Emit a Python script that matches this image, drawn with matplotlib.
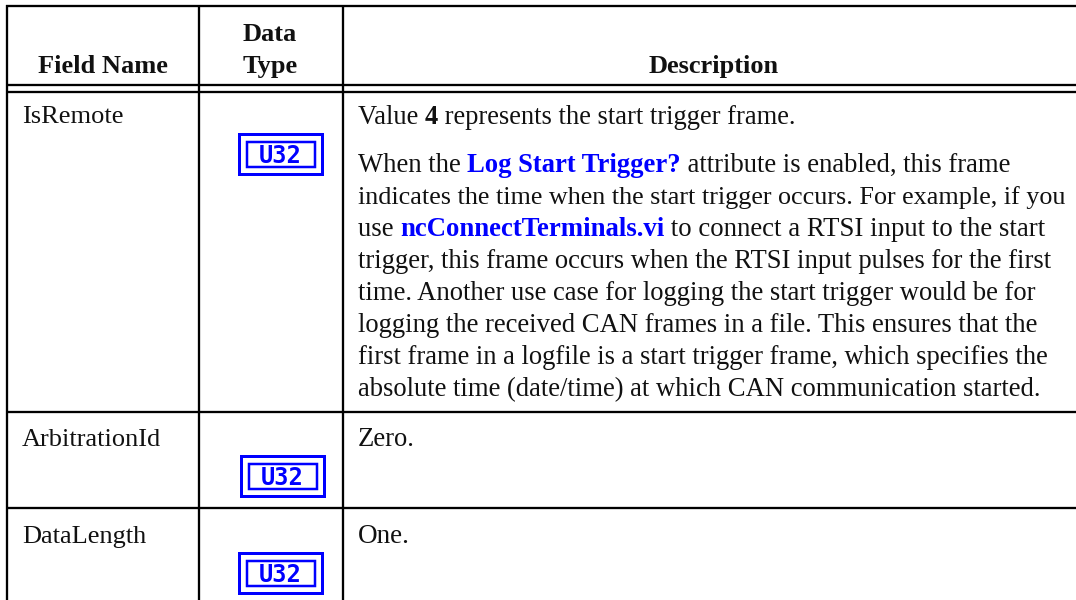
import matplotlib
matplotlib.use("Agg")
import matplotlib.pyplot as plt
from matplotlib.patches import Rectangle

W, H = 1076, 600
BLUE = "#0000ff"
INK = "#111111"
FS = 19.0

headers = [("Field Name", 103, [72]), ("Data\nType", 270, [40, 72]), ("Description", 714, [72])]
field_names = [("IsRemote", 123), ("ArbitrationId", 446), ("DataLength", 543)]
icon_boxes = [(238, 133), (240, 455), (238, 552)]
icon_label = "U32"

# each line: baseline, right end of the line, runs of (text, style)
desc_lines = [
    (124, 797, [("Value ", "n"), ("4", "b"), (" represents the start trigger frame.", "n")]),
    (172, 1012, [("When the ", "n"), ("Log Start Trigger?", "l"), (" attribute is enabled, this frame", "n")]),
    (204, 1065, [("indicates the time when the start trigger occurs. For example, if you", "n")]),
    (236, 1045, [("use ", "n"), ("ncConnectTerminals.vi", "l"), (" to connect a RTSI input to the start", "n")]),
    (268, 1052, [("trigger, this frame occurs when the RTSI input pulses for the first", "n")]),
    (300, 1039, [("time. Another use case for logging the start trigger would be for", "n")]),
    (332, 1037, [("logging the received CAN frames in a file. This ensures that the", "n")]),
    (364, 1049, [("first frame in a logfile is a start trigger frame, which specifies the", "n")]),
    (396, 1041, [("absolute time (date/time) at which CAN communication started.", "n")]),
    (446, 415, [("Zero.", "n")]),
    (543, 410, [("One.", "n")]),
]
h_lines = [6, 85, 92, 412, 508]
v_lines = [7, 199, 343]
DESC_X = 358

plt.rcParams["font.family"] = ["Liberation Serif", "DejaVu Serif"]
fig = plt.figure(figsize=(W / 100, H / 100), dpi=100, facecolor="white")
ax = fig.add_axes([0, 0, 1, 1])
ax.set_xlim(0, W)
ax.set_ylim(H, 0)
ax.axis("off")

LW = 2.3 * 0.72
for y in h_lines:
    ax.plot([6, W], [y, y], color="black", lw=LW, solid_capstyle="butt")
for x in v_lines:
    ax.plot([x, x], [5, H], color="black", lw=LW, solid_capstyle="butt")

for text, xc, bases in headers:
    for part, b in zip(text.split("\n"), bases):
        ax.text(xc, b + 1, part, fontsize=FS, fontweight="bold", ha="center", va="baseline", color=INK)

for name, b in field_names:
    ax.text(22, b, name, fontsize=FS, ha="left", va="baseline", color=INK)

fig.canvas.draw()
rend = fig.canvas.get_renderer()


def advance(txt, bold, size):
    """Width of a run, keeping its leading and trailing spaces."""
    weight = "bold" if bold else "normal"
    probe = ax.text(0, 0, "|" + txt + "|", fontsize=size, fontweight=weight)
    bar = ax.text(0, 0, "||", fontsize=size, fontweight=weight)
    width = probe.get_window_extent(rend).width - bar.get_window_extent(rend).width
    probe.remove()
    bar.remove()
    return width


for b, end, runs in desc_lines:
    total = sum(advance(t, s in ("b", "l"), FS) for t, s in runs)
    size = FS * (end - DESC_X) / total
    x = DESC_X
    for txt, st in runs:
        bold = st in ("b", "l")
        ax.text(x, b, txt, fontsize=size, fontweight="bold" if bold else "normal",
                color=BLUE if st == "l" else INK, ha="left", va="baseline")
        x += advance(txt, bold, size)

for x0, y0 in icon_boxes:
    ax.add_patch(Rectangle((x0 + 1, y0 + 1), 83, 40, fill=False, ec=BLUE, lw=3 * 0.72, joinstyle="miter"))
    ax.add_patch(Rectangle((x0 + 8.5, y0 + 8.5), 68, 25, fill=False, ec=BLUE, lw=2.5 * 0.72, joinstyle="miter"))
    ax.text(x0 + 42.3, y0 + 30, icon_label, fontsize=17, fontweight="bold", family="DejaVu Sans Mono",
            color=BLUE, ha="center", va="baseline")

fig.savefig("out.png", dpi=100)
